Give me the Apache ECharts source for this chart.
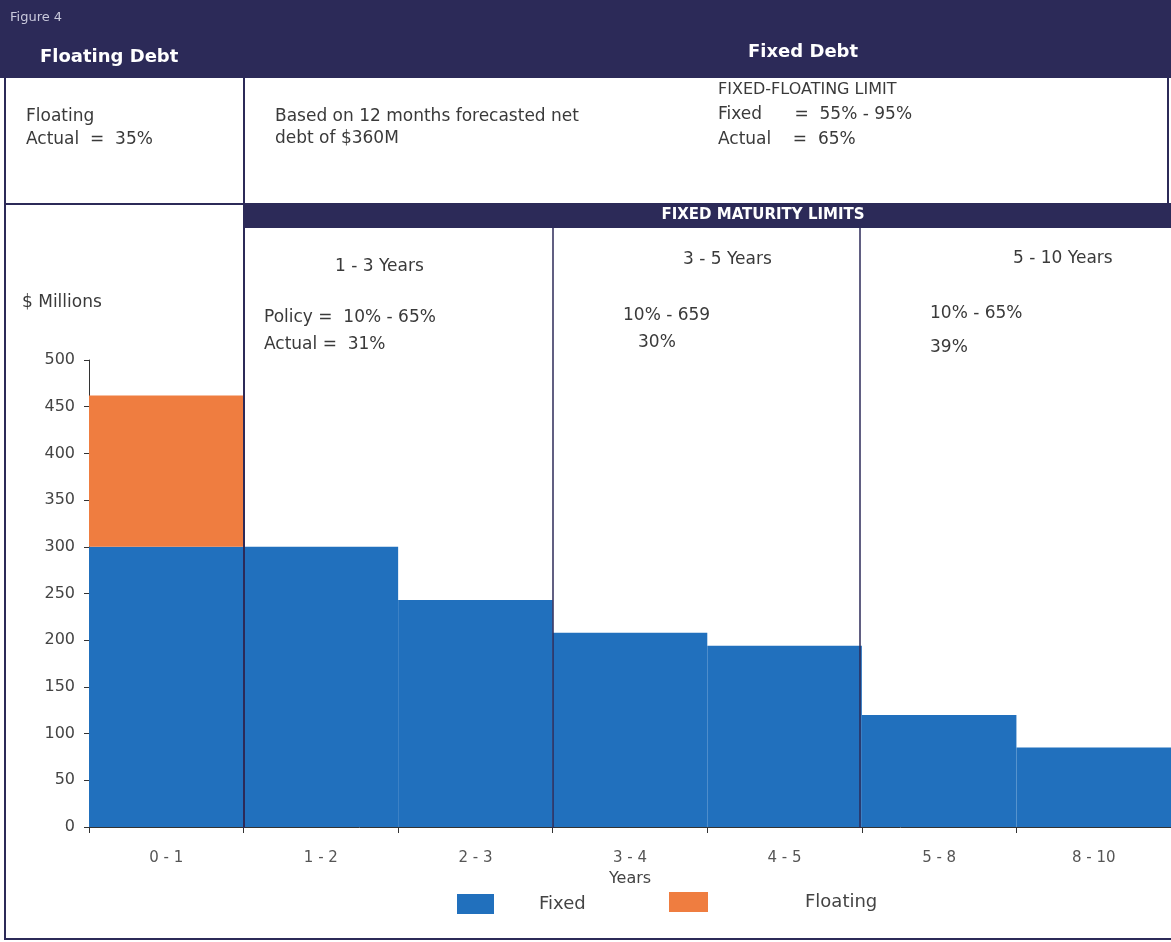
<!DOCTYPE html>
<html>
<head>
<meta charset="utf-8">
<script src="https://cdn.jsdelivr.net/npm/echarts@6/dist/echarts.min.js"></script>
<style>
html,body{margin:0;padding:0;background:#fff;}
#chart{width:1171px;height:942px;}
</style>
</head>
<body>
<div id="chart"></div>
<script>
var categories = ['0 - 1', '1 - 2', '2 - 3', '3 - 4', '4 - 5', '5 - 8', '8 - 10'];
var fixedValues = [300, 300, 243, 208, 194, 120, 85];
var floatingValues = [162, null, null, null, null, null, null];
var yTicks = { min: 0, max: 500, interval: 50 };

var NAVY = '#2c2a58';
var FONT = '"DejaVu Sans", Lato, sans-serif';
var TXT = '#3a3a3a';

function t(x, y, text, opts) {
  opts = opts || {};
  return {
    type: 'text', x: x, y: y, z: 20,
    style: {
      text: text,
      fill: opts.fill || TXT,
      font: (opts.weight || 'normal') + ' ' + (opts.size || 17) + 'px ' + FONT,
      textAlign: opts.align || 'left',
      textVerticalAlign: 'middle'
    }
  };
}
function line(x1, y1, x2, y2, w) {
  return { type: 'line', z: 30, shape: { x1: x1, y1: y1, x2: x2, y2: y2 },
    style: { stroke: NAVY, lineWidth: w || 2 } };
}

var chart = echarts.init(document.getElementById('chart'));
chart.setOption({
  backgroundColor: '#fff',
  animation: false,
  grid: { left: 89, top: 360, width: 1083, height: 467 },
  xAxis: {
    type: 'category',
    data: categories,
    name: 'Years',
    nameLocation: 'middle',
    nameGap: 44,
    nameTextStyle: { color: '#444', fontSize: 16, fontFamily: FONT },
    axisLine: { show: true, lineStyle: { color: '#333', width: 1 } },
    axisTick: { show: true, length: 6, lineStyle: { color: '#333' } },
    axisLabel: { color: '#555', fontSize: 15, fontFamily: FONT, margin: 24 }
  },
  yAxis: {
    type: 'value',
    min: yTicks.min, max: yTicks.max, interval: yTicks.interval,
    splitLine: { show: false },
    axisLine: { show: true, lineStyle: { color: '#333', width: 1 } },
    axisTick: { show: true, length: 5, lineStyle: { color: '#333' } },
    axisLabel: { color: '#444', fontSize: 16, fontFamily: FONT, margin: 14 }
  },
  legend: [
    { data: ['Fixed'], left: 452, top: 889, itemWidth: 37, itemHeight: 20, icon: 'rect',
      textStyle: { color: '#444', fontSize: 18, fontFamily: FONT, padding: [0, 0, 0, 40] } },
    { data: ['Floating'], left: 664, top: 887, itemWidth: 39, itemHeight: 20, icon: 'rect',
      textStyle: { color: '#444', fontSize: 18, fontFamily: FONT, padding: [0, 0, 0, 92] } }
  ],
  series: [
    { name: 'Fixed', type: 'bar', stack: 'debt', data: fixedValues,
      barCategoryGap: '0%', itemStyle: { color: '#2170bd' } },
    { name: 'Floating', type: 'bar', stack: 'debt', data: floatingValues,
      barCategoryGap: '0%', itemStyle: { color: '#ef7d40' } }
  ],
  graphic: [
    { type: 'rect', z: 10, shape: { x: 0, y: 0, width: 1171, height: 78 }, style: { fill: NAVY } },
    { type: 'rect', z: 10, shape: { x: 245, y: 203, width: 926, height: 25 }, style: { fill: NAVY } },
    t(10, 18, 'Figure 4', { fill: '#c9c9dc', size: 13 }),
    t(40, 57, 'Floating Debt', { fill: '#fff', weight: 'bold', size: 18 }),
    t(748, 52, 'Fixed Debt', { fill: '#fff', weight: 'bold', size: 18 }),
    t(763, 215, 'FIXED MATURITY LIMITS', { fill: '#fff', weight: 'bold', size: 15, align: 'center' }),
    t(26, 117, 'Floating'),
    t(26, 140, 'Actual  =  35%'),
    t(275, 117, 'Based on 12 months forecasted net'),
    t(275, 139, 'debt of $360M'),
    t(718, 90, 'FIXED-FLOATING LIMIT', { size: 16 }),
    t(718, 115, 'Fixed      =  55% - 95%'),
    t(718, 140, 'Actual    =  65%'),
    t(335, 267, '1 - 3 Years'),
    t(683, 260, '3 - 5 Years'),
    t(1013, 259, '5 - 10 Years'),
    t(264, 318, 'Policy =  10% - 65%'),
    t(264, 345, 'Actual =  31%'),
    t(623, 316, '10% - 659'),
    t(638, 343, '30%'),
    t(930, 314, '10% - 65%'),
    t(930, 348, '39%'),
    t(22, 303, '$ Millions'),
    line(5, 0, 5, 940, 2),
    line(5, 939, 1171, 939, 2),
    line(1168, 78, 1168, 203, 2),
    line(5, 204, 245, 204, 2),
    line(244, 78, 244, 828, 2),
    line(553, 228, 553, 828, 1.5),
    line(860, 228, 860, 828, 1.5)
  ]
});
</script>
</body>
</html>
